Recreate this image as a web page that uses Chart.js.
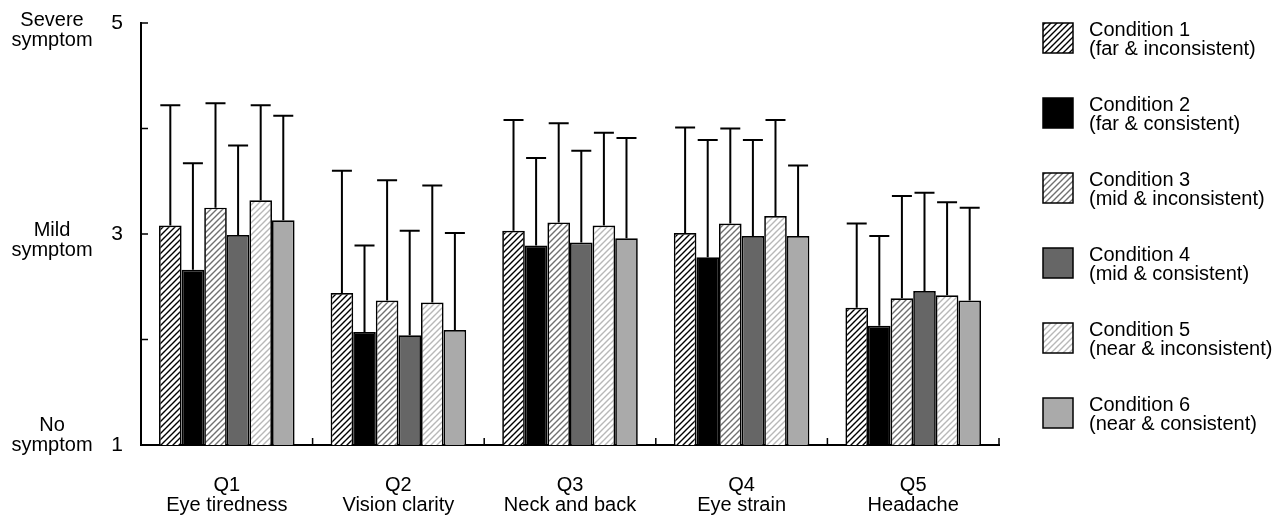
<!DOCTYPE html>
<html lang="en">
<head>
<meta charset="UTF-8">
<title>Symptom ratings by condition</title>
<script src="https://cdn.jsdelivr.net/npm/chart.js"></script>
<style>
  html, body { margin: 0; padding: 0; background: #fff; }
  canvas { display: block; }
</style>
</head>
<body>
<canvas id="grafico" width="1283" height="517"></canvas>
<script>
// categories (two-line labels)
const questions = [
  ['Q1', 'Eye tiredness'],
  ['Q2', 'Vision clarity'],
  ['Q3', 'Neck and back'],
  ['Q4', 'Eye strain'],
  ['Q5', 'Headache']
];

// mean scores per condition
const cond1 = [3.08, 2.44, 3.03, 3.01, 2.30];
const cond2 = [2.66, 2.07, 2.89, 2.78, 2.13];
const cond3 = [3.25, 2.37, 3.11, 3.10, 2.39];
const cond4 = [2.99, 2.04, 2.92, 2.98, 2.46];
const cond5 = [3.32, 2.35, 3.08, 3.17, 2.42];
const cond6 = [3.13, 2.09, 2.96, 2.98, 2.37];

// standard deviations (drawn upward only)
const sd1 = [1.14, 1.16, 1.05, 1.00, 0.80];
const sd2 = [1.01, 0.82, 0.83, 1.11, 0.85];
const sd3 = [0.99, 1.14, 0.94, 0.90, 0.97];
const sd4 = [0.85, 0.99, 0.87, 0.91, 0.93];
const sd5 = [0.90, 1.11, 0.88, 0.91, 0.88];
const sd6 = [0.99, 0.92, 0.95, 0.67, 0.88];

const condNames = ['Condition 1', 'Condition 2', 'Condition 3', 'Condition 4', 'Condition 5', 'Condition 6'];
const condDescs = ['(far & inconsistent)', '(far & consistent)', '(mid & inconsistent)',
  '(mid & consistent)', '(near & inconsistent)', '(near & consistent)'];

// y axis: only some ticks are labelled
const yTickLabels = { 1: '1', 3: '3', 5: '5' };
const yNotes = { 5: ['Severe', 'symptom'], 3: ['Mild', 'symptom'], 1: ['No', 'symptom'] };

const FONT = 'Liberation Sans, Arial, sans-serif';

function hachura(cor, fundo) {
  const c = document.createElement('canvas');
  c.width = 6; c.height = 6;
  const g = c.getContext('2d');
  g.fillStyle = fundo;
  g.fillRect(0, 0, 6, 6);
  g.strokeStyle = cor;
  g.lineWidth = 1.4;
  g.beginPath();
  g.moveTo(0, 6); g.lineTo(6, 0);
  g.moveTo(-1, 1); g.lineTo(1, -1);
  g.moveTo(5, 7); g.lineTo(7, 5);
  g.stroke();
  return g.createPattern(c, 'repeat');
}

const ctx = document.getElementById('grafico').getContext('2d');

const fills = [
  hachura('#000000', '#ffffff'),
  '#000000',
  hachura('#707070', '#ffffff'),
  '#666666',
  hachura('#b8b8b8', '#ffffff'),
  '#aaaaaa'
];

const series = [cond1, cond2, cond3, cond4, cond5, cond6];
const sds = [sd1, sd2, sd3, sd4, sd5, sd6];

const datasets = series.map((s, i) => ({
  label: condNames[i],
  data: s,
  sd: sds[i],
  backgroundColor: fills[i],
  borderColor: '#000',
  borderWidth: 1.7,
  borderSkipped: false,
  categoryPercentage: 0.79,
  barPercentage: 1.0
}));

// error bars, inward ticks, side notes and legend
const extras = {
  id: 'extras',
  afterDatasetsDraw(chart) {
    const g = chart.ctx;
    const y = chart.scales.y;
    const x = chart.scales.x;
    const area = chart.chartArea;

    g.save();
    g.strokeStyle = '#000';
    g.lineWidth = 2;
    chart.data.datasets.forEach((ds, i) => {
      chart.getDatasetMeta(i).data.forEach((bar, j) => {
        const top = y.getPixelForValue(ds.data[j] + ds.sd[j]);
        g.beginPath();
        g.moveTo(bar.x, bar.y);
        g.lineTo(bar.x, top);
        g.moveTo(bar.x - 10, top);
        g.lineTo(bar.x + 10, top);
        g.stroke();
      });
    });

    // inward ticks
    g.lineWidth = 1.5;
    g.beginPath();
    for (let v = 1; v <= 5; v++) {
      const py = y.getPixelForValue(v);
      g.moveTo(y.right, py);
      g.lineTo(y.right + 7, py);
    }
    const n = questions.length;
    for (let k = 1; k <= n; k++) {
      const px = k < n ? (x.getPixelForTick(k - 1) + x.getPixelForTick(k)) / 2 : area.right;
      g.moveTo(px, x.top);
      g.lineTo(px, x.top - 7);
    }
    g.stroke();

    // notes left of the y axis
    g.fillStyle = '#000';
    g.font = '20px ' + FONT;
    g.textAlign = 'center';
    g.textBaseline = 'middle';
    const shift = { 5: 7, 3: 6, 1: -10 };
    Object.keys(yNotes).forEach(v => {
      const cy = y.getPixelForValue(+v) + shift[v];
      g.fillText(yNotes[v][0], 52, cy - 10);
      g.fillText(yNotes[v][1], 52, cy + 10);
    });

    // legend
    g.textAlign = 'left';
    chart.data.datasets.forEach((ds, i) => {
      const top = 23 + i * 75;
      g.fillStyle = ds.backgroundColor;
      g.fillRect(1043, top, 30, 30);
      g.lineWidth = 1.5;
      g.strokeRect(1043, top, 30, 30);
      g.fillStyle = '#000';
      g.fillText(condNames[i], 1089, top + 7);
      g.fillText(condDescs[i], 1089, top + 26);
    });
    g.restore();
  }
};

new Chart(ctx, {
  type: 'bar',
  data: { labels: questions, datasets: datasets },
  options: {
    responsive: false,
    animation: false,
    layout: { padding: { top: 23, right: 284, bottom: 0, left: 0 } },
    plugins: { legend: { display: false }, tooltip: { enabled: false } },
    scales: {
      x: {
        afterFit: s => { s.height = 72; s.paddingLeft = 0; s.paddingRight = 0; },
        grid: { display: false },
        border: { display: true, color: '#000', width: 2 },
        ticks: {
          color: '#000',
          font: { family: FONT, size: 20, lineHeight: 1.0 },
          padding: 22,
          maxRotation: 0
        }
      },
      y: {
        min: 1,
        max: 5,
        afterFit: s => { s.width = 141; s.paddingTop = 0; s.paddingBottom = 0; },
        grid: { display: false },
        border: { display: true, color: '#000', width: 2 },
        ticks: {
          stepSize: 1,
          color: '#000',
          padding: 10,
          font: { family: FONT, size: 21 },
          callback: v => yTickLabels[v] || ''
        }
      }
    }
  },
  plugins: [extras]
});
</script>
</body>
</html>
